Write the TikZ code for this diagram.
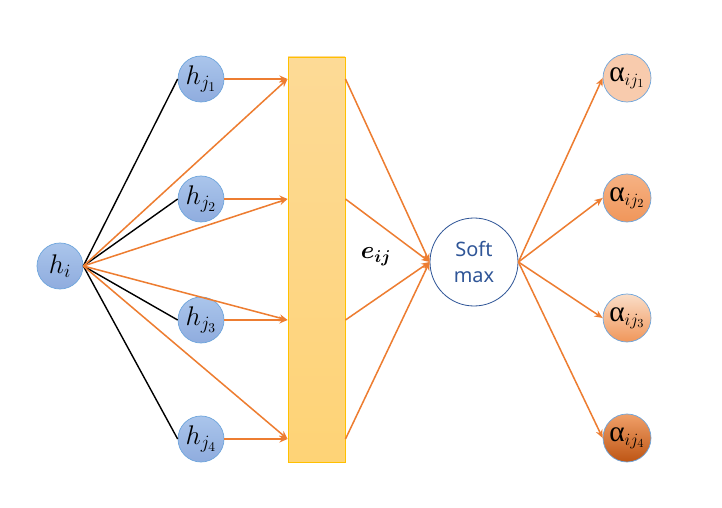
\RequirePackage{fix-cm}
\documentclass[tikz,border=0pt]{standalone}
\usepackage{bm}
\usepackage{fontspec}
\newfontfamily\greekfont{Liberation Serif}
\newfontfamily\smaxfont{Noto Sans}
\usetikzlibrary{arrows.meta}

\definecolor{arrorange}{RGB}{237,125,49}
\definecolor{nodeblue}{RGB}{170,197,235}
\definecolor{nodebluedark}{RGB}{143,172,222}
\definecolor{rimblue}{RGB}{110,165,220}
\definecolor{boxtop}{RGB}{253,218,150}
\definecolor{boxbottom}{RGB}{254,211,118}
\definecolor{boxrim}{RGB}{255,192,0}
\definecolor{smaxblue}{RGB}{47,85,151}

\tikzset{
	hnode/.style={circle, minimum size=1.38cm, inner sep=0pt, draw=rimblue, line width=0.6pt,
		top color=nodeblue, bottom color=nodebluedark, font=\fontsize{23}{26}\selectfont},
	anode/.style={circle, minimum size=1.44cm, inner sep=0pt, draw=rimblue, line width=0.6pt,
		font=\fontsize{21}{24}\selectfont},
	oarrow/.style={-{Stealth[length=7pt,width=6pt]}, line width=1.3pt, arrorange},
	kline/.style={line width=1.2pt, black},
}

\newcommand{\alp}[1]{{\greekfont\fontsize{25}{25}\selectfont α}$_{ij_{#1}}$}

\begin{document}
\begin{tikzpicture}[x=0.03cm, y=-0.03cm]
%	helplines
%	\draw[thin] (0,0) grid[step=50] (722,508);
	\useasboundingbox (0,0) rectangle (722,508);

	\node (hi)[hnode] at (60,266) {$h_i$};
	\node (hj1)[hnode] at (201,79) {$h_{j_1}$};
	\node (hj2)[hnode] at (201,199) {$h_{j_2}$};
	\node (hj3)[hnode] at (201,320) {$h_{j_3}$};
	\node (hj4)[hnode] at (201,439) {$h_{j_4}$};

	\node (box)[minimum width=1.71cm, minimum height=12.15cm, inner sep=0pt, draw=boxrim, line width=0.8pt,
		top color=boxtop, bottom color=boxbottom] at (316.5,259.5) {};

	\node (eij)[font=\fontsize{21}{24}\selectfont] at (376,257) {$\bm{e_{ij}}$};

	\node (sm)[circle, minimum size=2.64cm, inner sep=0pt, draw=smaxblue, line width=0.7pt, fill=white,
		text=smaxblue, align=center, font=\smaxfont\fontsize{17}{23}\selectfont] at (474,262) {Soft\\max};

	\node (a1)[anode, fill={rgb,255:red,248;green,203;blue,173}] at (627,78) {\alp{1}};
	\node (a2)[anode, top color={rgb,255:red,246;green,178;blue,132}, bottom color={rgb,255:red,240;green,150;blue,90}] at (627,198) {\alp{2}};
	\node (a3)[anode, top color={rgb,255:red,250;green,222;blue,200}, bottom color={rgb,255:red,240;green,150;blue,90}] at (627,318) {\alp{3}};
	\node (a4)[anode, top color={rgb,255:red,240;green,160;blue,105}, bottom color={rgb,255:red,190;green,85;blue,20}] at (627,438) {\alp{4}};

	% h_i to the h_j
	\foreach \j in {1,...,4}
		\draw[kline] (hi.east) -- (hj\j.west);

	% into the box
	\foreach \j in {1,...,4} {
		\draw[oarrow] (hi.east) -- (box.west |- hj\j);
		\draw[oarrow] (hj\j.east) -- (box.west |- hj\j);
	}

	% box to softmax
	\foreach \j in {1,...,4}
		\draw[oarrow] (box.east |- hj\j) -- (sm.west);

	% softmax to the weights
	\foreach \j in {1,...,4}
		\draw[oarrow] (sm.east) -- (a\j.west);

\end{tikzpicture}
\end{document}
